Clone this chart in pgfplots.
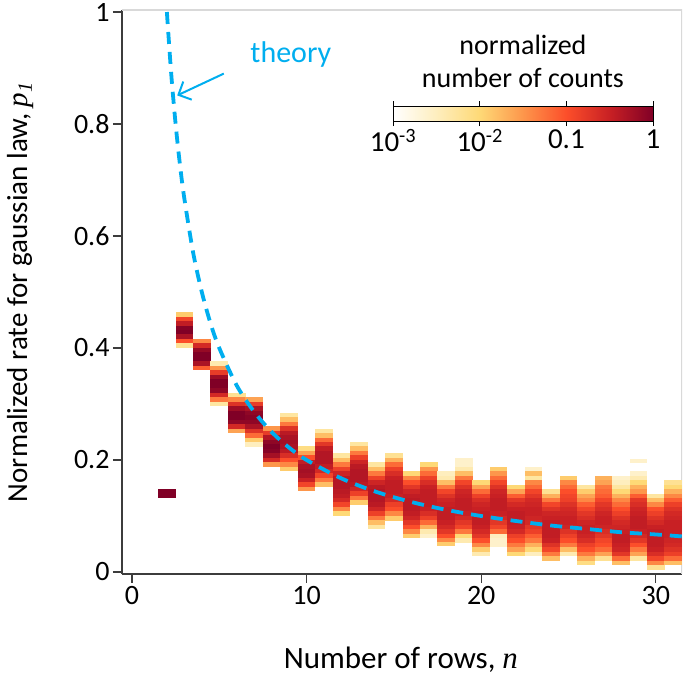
\documentclass[border=0pt]{standalone}
\usepackage{pgfplots}
\pgfplotsset{compat=1.18}
\usepackage{fontspec}
\setmainfont{Carlito}
\newfontfamily\tnr{Liberation Serif}
\usetikzlibrary{arrows.meta}
\definecolor{theory}{RGB}{0,174,239}
\definecolor{axisgray}{RGB}{60,60,60}
\pgfplotsset{colormap={ylorrdw}{rgb255=(255,255,255) rgb255=(254,238,190) rgb255=(254,217,118) rgb255=(253,150,75) rgb255=(252,78,42) rgb255=(200,32,36) rgb255=(128,0,38)}}
\pgfdeclareplotmark{cell}{\pgfpathrectangle{\pgfqpoint{-8.8pt}{-2.3pt}}{\pgfqpoint{17.6pt}{4.6pt}}\pgfusepathqfill}

\begin{document}
\begin{tikzpicture}[font=\fontsize{28}{34}\selectfont]
\begin{axis}[
  set layers,
  scale only axis, width=560pt, height=564pt,
  xmin=-0.57, xmax=31.5, ymin=-0.0036, ymax=1.0036,
  axis x line*=bottom, axis y line*=left,
  axis line style={-, axisgray, line width=1.2pt},
  tick style={axisgray, line width=1.2pt},
  tick align=outside, major tick length=9pt,
  xtick={0,10,20,30}, ytick={0,0.2,0.4,0.6,0.8,1},
  /pgf/number format/assume math mode=true,
  ticklabel style={font=\fontsize{28}{34}\selectfont},
  xlabel={Number of rows, {\tnr\itshape n}},
  ylabel={Normalized rate for gaussian law, {\tnr\itshape p\textsubscript{1}}},
  xlabel style={at={(axis description cs:0.498,-0.152)}, anchor=center, font=\fontsize{31}{36}\selectfont},
  ylabel style={at={(axis description cs:-0.182,0.5)}, anchor=center, font=\fontsize{29}{34}\selectfont},
  colormap name=ylorrdw,
  point meta min=-3, point meta max=0,
  colorbar horizontal,
  colorbar style={
    at={(0.484,0.803)}, anchor=south west,
    scale only axis, width=260pt, height=15pt,
    xtick={-3,-2,-1,0},
    xticklabels={10\textsuperscript{-3},10\textsuperscript{-2},0.1,1},
    tick align=outside, major tick length=5pt,
    axis line style={black, line width=1pt},
    tick style={black, line width=1pt},
    ticklabel style={font=\fontsize{29}{34}\selectfont},
  },
]
\coordinate (SW) at (rel axis cs:0,0);
\draw[gray!30, line width=1.5pt] (rel axis cs:0,1) -- (rel axis cs:1,1) -- (rel axis cs:1,0);
\addplot[scatter, only marks, mark=cell, scatter src=explicit] table[x=n, y=p, meta=c] {
n p c
2 0.136 0
2 0.144 0
3 0.460 -1.9
3 0.452 -0.9
3 0.444 -0.45
3 0.436 -0.05
3 0.428 0
3 0.420 -0.3
3 0.412 -1.0
3 0.404 -2.2
4 0.412 -1.4
4 0.404 -0.6
4 0.396 -0.15
4 0.388 0
4 0.380 0
4 0.372 -0.3
4 0.364 -1.1
5 0.372 -2.4
5 0.364 -1.5
5 0.356 -0.8
5 0.348 -0.2
5 0.340 0
5 0.332 0
5 0.324 -0.1
5 0.316 -0.6
5 0.308 -1.3
5 0.300 -2.3
6 0.316 -2.2
6 0.308 -1.4
6 0.300 -0.7
6 0.292 -0.2
6 0.284 0
6 0.276 0
6 0.268 -0.1
6 0.260 -0.6
6 0.252 -1.6
7 0.308 -1.6
7 0.300 -0.8
7 0.292 -0.3
7 0.284 -0.1
7 0.276 -0.05
7 0.268 -0.1
7 0.260 -0.3
7 0.252 -0.7
7 0.244 -1.2
7 0.236 -1.9
7 0.228 -2.5
8 0.256 -1.5
8 0.248 -0.8
8 0.240 -0.35
8 0.232 -0.1
8 0.224 0
8 0.216 -0.05
8 0.208 -0.25
8 0.200 -0.6
8 0.192 -1.5
9 0.280 -2.3
9 0.272 -1.8
9 0.264 -1.3
9 0.256 -0.7
9 0.248 -0.4
9 0.240 -0.3
9 0.232 -0.25
9 0.224 -0.3
9 0.216 -0.4
9 0.208 -0.65
9 0.200 -1.0
9 0.192 -1.4
9 0.184 -1.9
10 0.220 -2.1
10 0.212 -1.6
10 0.204 -1.0
10 0.196 -0.45
10 0.188 -0.3
10 0.180 -0.25
10 0.172 -0.3
10 0.164 -0.5
10 0.156 -0.9
10 0.148 -1.5
11 0.252 -2.3
11 0.244 -1.8
11 0.236 -1.2
11 0.228 -0.75
11 0.220 -0.45
11 0.212 -0.35
11 0.204 -0.35
11 0.196 -0.35
11 0.188 -0.45
11 0.180 -0.6
11 0.172 -0.9
11 0.164 -1.3
11 0.156 -1.8
12 0.208 -2.3
12 0.200 -1.8
12 0.192 -1.3
12 0.184 -0.85
12 0.176 -0.55
12 0.168 -0.4
12 0.160 -0.35
12 0.152 -0.35
12 0.144 -0.4
12 0.136 -0.45
12 0.128 -0.6
12 0.120 -0.9
12 0.112 -1.4
12 0.104 -2.0
13 0.228 -2.3
13 0.220 -1.8
13 0.212 -1.3
13 0.204 -0.85
13 0.196 -0.55
13 0.188 -0.4
13 0.180 -0.35
13 0.172 -0.35
13 0.164 -0.35
13 0.156 -0.4
13 0.148 -0.55
13 0.140 -0.85
13 0.132 -1.3
13 0.124 -1.9
14 0.192 -2.3
14 0.184 -1.8
14 0.176 -1.3
14 0.168 -0.85
14 0.160 -0.55
14 0.152 -0.4
14 0.144 -0.35
14 0.136 -0.35
14 0.128 -0.35
14 0.120 -0.4
14 0.112 -0.55
14 0.104 -0.85
14 0.096 -1.3
14 0.088 -1.8
14 0.080 -2.3
15 0.208 -2.2
15 0.200 -1.7
15 0.192 -1.2
15 0.184 -0.85
15 0.176 -0.65
15 0.168 -0.5
15 0.160 -0.45
15 0.152 -0.45
15 0.144 -0.45
15 0.136 -0.5
15 0.128 -0.6
15 0.120 -0.85
15 0.112 -1.0
15 0.104 -1.4
15 0.096 -1.9
16 0.176 -2.0
16 0.168 -1.4
16 0.160 -1.0
16 0.152 -0.75
16 0.144 -0.55
16 0.136 -0.45
16 0.128 -0.4
16 0.120 -0.4
16 0.112 -0.4
16 0.104 -0.45
16 0.096 -0.55
16 0.088 -0.75
16 0.080 -1.0
16 0.072 -1.4
16 0.064 -1.9
17 0.192 -2.0
17 0.184 -1.5
17 0.176 -1.2
17 0.168 -0.85
17 0.160 -0.65
17 0.152 -0.5
17 0.144 -0.45
17 0.136 -0.45
17 0.128 -0.45
17 0.120 -0.45
17 0.112 -0.5
17 0.104 -0.65
17 0.096 -0.85
17 0.088 -1.2
17 0.080 -1.7
17 0.072 -2.4
17 0.064 -2.6
18 0.176 -2.5
18 0.168 -2.4
18 0.160 -1.8
18 0.152 -1.3
18 0.144 -0.9
18 0.136 -0.7
18 0.128 -0.55
18 0.120 -0.5
18 0.112 -0.45
18 0.104 -0.45
18 0.096 -0.45
18 0.088 -0.5
18 0.080 -0.6
18 0.072 -0.75
18 0.064 -1.0
18 0.056 -1.4
18 0.050 -1.9
19 0.200 -2.6
19 0.192 -2.6
19 0.184 -2.4
19 0.176 -1.8
19 0.168 -1.3
19 0.160 -0.9
19 0.152 -0.7
19 0.144 -0.55
19 0.136 -0.5
19 0.128 -0.45
19 0.120 -0.45
19 0.112 -0.45
19 0.104 -0.5
19 0.096 -0.6
19 0.088 -0.75
19 0.080 -0.9
19 0.072 -1.3
19 0.064 -2.0
19 0.056 -2.4
20 0.160 -2.0
20 0.152 -1.6
20 0.144 -1.2
20 0.136 -0.85
20 0.128 -0.65
20 0.120 -0.55
20 0.112 -0.5
20 0.104 -0.45
20 0.096 -0.45
20 0.088 -0.45
20 0.080 -0.5
20 0.072 -0.6
20 0.064 -0.75
20 0.056 -1.0
20 0.048 -1.4
20 0.040 -1.9
20 0.032 -2.4
21 0.184 -1.9
21 0.176 -1.5
21 0.168 -1.2
21 0.160 -0.9
21 0.152 -0.7
21 0.144 -0.55
21 0.136 -0.5
21 0.128 -0.45
21 0.120 -0.45
21 0.112 -0.45
21 0.104 -0.5
21 0.096 -0.6
21 0.088 -0.75
21 0.080 -0.9
21 0.072 -1.2
21 0.064 -2.5
21 0.056 -2.6
21 0.048 -2.6
22 0.152 -2.0
22 0.144 -1.6
22 0.136 -1.1
22 0.128 -0.75
22 0.120 -0.6
22 0.112 -0.5
22 0.104 -0.45
22 0.096 -0.45
22 0.088 -0.45
22 0.080 -0.5
22 0.072 -0.6
22 0.064 -0.85
22 0.056 -1.0
22 0.048 -1.3
22 0.040 -1.6
22 0.032 -2.0
23 0.184 -2.6
23 0.176 -1.8
23 0.168 -2.3
23 0.160 -1.4
23 0.152 -1.2
23 0.144 -0.9
23 0.136 -0.75
23 0.128 -0.6
23 0.120 -0.55
23 0.112 -0.5
23 0.104 -0.5
23 0.096 -0.55
23 0.088 -0.6
23 0.080 -0.75
23 0.072 -0.85
23 0.064 -1.1
23 0.056 -1.3
23 0.048 -1.7
23 0.040 -2.0
23 0.032 -2.5
24 0.144 -2.2
24 0.136 -1.7
24 0.128 -1.3
24 0.120 -0.9
24 0.112 -0.7
24 0.104 -0.55
24 0.096 -0.5
24 0.088 -0.45
24 0.080 -0.45
24 0.072 -0.45
24 0.064 -0.45
24 0.056 -0.5
24 0.048 -0.7
24 0.040 -0.9
24 0.032 -1.3
24 0.024 -1.8
25 0.168 -1.9
25 0.160 -1.4
25 0.152 -1.2
25 0.144 -1.0
25 0.136 -0.9
25 0.128 -0.85
25 0.120 -0.7
25 0.112 -0.6
25 0.104 -0.55
25 0.096 -0.5
25 0.088 -0.5
25 0.080 -0.55
25 0.072 -0.7
25 0.064 -0.85
25 0.056 -1.0
25 0.048 -1.3
25 0.040 -1.8
25 0.032 -2.4
26 0.152 -2.3
26 0.144 -1.9
26 0.136 -1.6
26 0.128 -1.4
26 0.120 -1.1
26 0.112 -0.9
26 0.104 -0.75
26 0.096 -0.65
26 0.088 -0.55
26 0.080 -0.5
26 0.072 -0.5
26 0.064 -0.55
26 0.056 -0.65
26 0.048 -0.85
26 0.040 -1.0
26 0.032 -1.3
26 0.024 -1.7
26 0.016 -2.1
27 0.168 -1.7
27 0.160 -1.6
27 0.152 -1.3
27 0.144 -1.2
27 0.136 -1.1
27 0.128 -0.9
27 0.120 -0.75
27 0.112 -0.65
27 0.104 -0.55
27 0.096 -0.5
27 0.088 -0.5
27 0.080 -0.55
27 0.072 -0.65
27 0.064 -0.75
27 0.056 -0.9
27 0.048 -1.0
27 0.040 -1.2
27 0.032 -1.6
27 0.024 -2.2
28 0.168 -2.6
28 0.160 -2.5
28 0.152 -2.3
28 0.144 -2.0
28 0.136 -1.7
28 0.128 -1.4
28 0.120 -1.2
28 0.112 -1.0
28 0.104 -0.85
28 0.096 -0.7
28 0.088 -0.6
28 0.080 -0.55
28 0.072 -0.5
28 0.064 -0.45
28 0.056 -0.45
28 0.048 -0.5
28 0.040 -0.55
28 0.032 -0.75
28 0.024 -1.2
28 0.016 -1.8
29 0.198 -2.6
29 0.176 -2.6
29 0.168 -2.4
29 0.160 -2.0
29 0.152 -1.7
29 0.144 -1.5
29 0.136 -1.1
29 0.128 -0.75
29 0.120 -0.65
29 0.112 -0.55
29 0.104 -0.5
29 0.096 -0.45
29 0.088 -0.45
29 0.080 -0.45
29 0.072 -0.5
29 0.064 -0.6
29 0.056 -0.75
29 0.048 -1.0
29 0.040 -1.3
29 0.032 -1.6
29 0.024 -2.3
30 0.136 -2.3
30 0.128 -1.8
30 0.120 -1.4
30 0.112 -1.0
30 0.104 -0.85
30 0.096 -0.7
30 0.088 -0.6
30 0.080 -0.5
30 0.072 -0.45
30 0.064 -0.45
30 0.056 -0.45
30 0.048 -0.45
30 0.040 -0.5
30 0.032 -0.65
30 0.024 -0.9
30 0.016 -1.4
30 0.008 -2.2
31 0.160 -2.2
31 0.152 -2.0
31 0.144 -1.7
31 0.136 -1.4
31 0.128 -1.1
31 0.120 -0.85
31 0.112 -0.7
31 0.104 -0.6
31 0.096 -0.55
31 0.088 -0.5
31 0.080 -0.5
31 0.072 -0.5
31 0.064 -0.5
31 0.056 -0.55
31 0.048 -0.6
31 0.040 -0.7
31 0.032 -0.85
31 0.024 -1.2
31 0.016 -1.8
};
\addplot[on layer=axis foreground, theory, line width=3.8pt, dash pattern=on 12pt off 8pt, smooth, no marks] coordinates {
(2,1.0) (2.25,0.889) (2.5,0.8) (2.75,0.727) (3,0.667) (3.5,0.571) (4,0.5) (4.5,0.444) (5,0.4) (6,0.333) (7,0.286) (8,0.25) (9,0.222) (10,0.2) (12,0.167) (14,0.143) (16,0.125) (18,0.111) (20,0.1) (22,0.091) (24,0.083) (26,0.077) (28,0.071) (30,0.067) (31.5,0.0635)
};
\node[text=theory, font=\fontsize{30}{36}\selectfont] at (axis cs:9.1,0.925) {theory};
\draw[theory, line width=2pt, -{Straight Barb[length=10pt, width=20pt]}] (axis cs:5.26,0.890) -- (axis cs:2.59,0.851);
\node[align=center, font=\fontsize{28}{33}\selectfont] at (rel axis cs:0.716,0.908) {normalized\\number of counts};
\end{axis}
\pgfresetboundingbox
\path ([shift={(-122pt,-106pt)}]SW) rectangle ([shift={(563pt,574pt)}]SW);
\end{tikzpicture}
\end{document}
